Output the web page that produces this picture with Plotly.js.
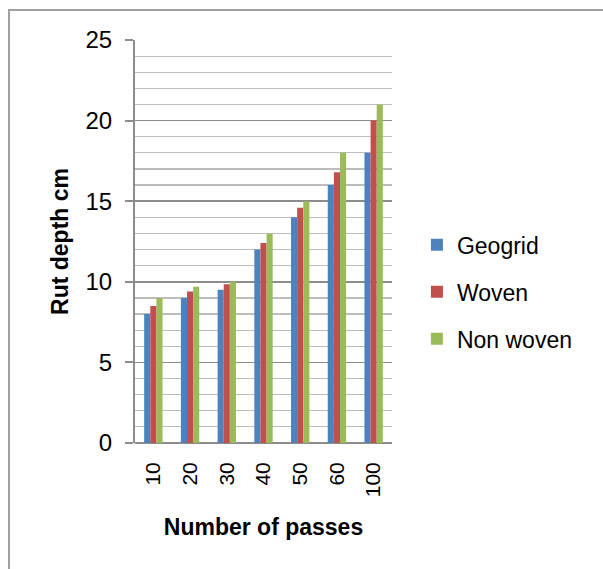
<!DOCTYPE html>
<html>
<head>
<meta charset="utf-8">
<script src="https://cdn.plot.ly/plotly-3.0.1.min.js"></script>
<style>
  html, body { margin: 0; padding: 0; background: #fff; }
  #wrap { position: relative; width: 603px; height: 569px; overflow: hidden; }
  #chart { position: absolute; left: 0; top: 0; width: 603px; height: 569px; }
  #frame { position: absolute; left: 8px; top: 9px; width: 700px; height: 700px;
           border-left: 2px solid #a0a0a0; border-top: 2px solid #a0a0a0; pointer-events: none; }
</style>
</head>
<body>
<div id="wrap">
  <div id="chart"></div>
  <div id="frame"></div>
</div>
<script>
const categories = ["10", "20", "30", "40", "50", "60", "100"];
const seriesNames = ["Geogrid", "Woven", "Non woven"];
const geogrid = [8, 9, 9.5, 12, 14, 16, 18];
const woven = [8.5, 9.4, 9.85, 12.4, 14.6, 16.8, 20];
const nonWoven = [9, 9.7, 10, 13, 15, 18, 21];
const colors = ["#4f81bd", "#c0504d", "#9bbb59"];
const yTitle = "Rut depth cm";
const xTitle = "Number of passes";

const seriesValues = [geogrid, woven, nonWoven];
const traces = seriesValues.map((vals, i) => ({
  type: "bar",
  name: seriesNames[i],
  x: categories,
  y: vals,
  marker: { color: colors[i], line: { width: 0 } },
  legendgroup: "g" + i,
  hoverinfo: "x+y+name"
}));

const font = "Arial, 'Liberation Sans', sans-serif";
const layout = {
  width: 603, height: 569,
  margin: { l: 135, r: 211, t: 40, b: 126, pad: 0 },
  paper_bgcolor: "#ffffff",
  plot_bgcolor: "#ffffff",
  barmode: "group",
  bargap: 0.5,
  bargroupgap: 0,
  showlegend: true,
  legend: {
    x: 1.097, xanchor: "left",
    y: 0.375, yanchor: "middle",
    font: { family: font, size: 23, color: "#000" },
    tracegroupgap: 14,
    itemclick: false
  },
  xaxis: {
    type: "category",
    showgrid: false,
    showline: false,
    zeroline: false,
    ticks: "",
    tickangle: -90,
    tickfont: { family: font, size: 21, color: "#000" },
    ticklabelstandoff: 14,
    title: { text: xTitle, font: { family: font, size: 23, color: "#000", weight: "bold" }, standoff: 22 },
    automargin: false
  },
  yaxis: {
    range: [0, 25],
    dtick: 5,
    tick0: 0,
    showgrid: true,
    gridcolor: "#8c8c8c",
    gridwidth: 1.5,
    minor: { dtick: 1, showgrid: true, gridcolor: "#bdbdbd", gridwidth: 1.2, ticks: "" },
    showline: true,
    linecolor: "#8c8c8c",
    linewidth: 2,
    ticks: "outside",
    ticklen: 8,
    tickwidth: 2,
    tickcolor: "#8c8c8c",
    zeroline: true,
    zerolinecolor: "#8c8c8c",
    zerolinewidth: 2,
    tickfont: { family: font, size: 24, color: "#000" },
    ticklabelstandoff: 8,
    title: { text: yTitle, font: { family: font, size: 23, color: "#000", weight: "bold" }, standoff: 10 },
    automargin: false,
    fixedrange: true
  }
};

Plotly.newPlot("chart", traces, layout, { displayModeBar: false, staticPlot: true });
</script>
</body>
</html>
